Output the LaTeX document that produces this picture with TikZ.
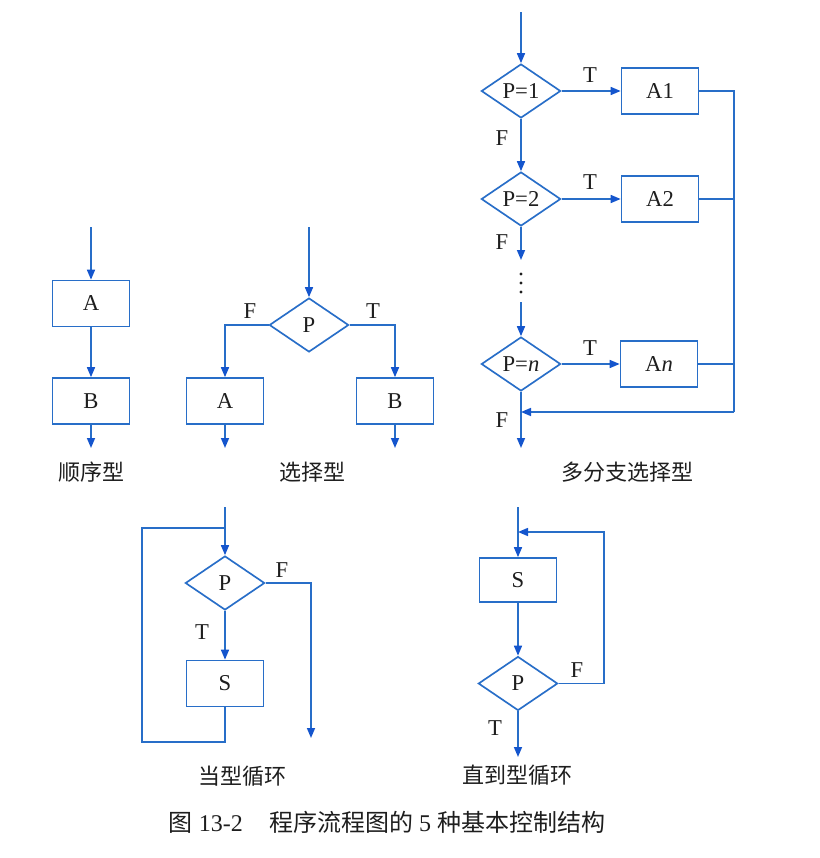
\documentclass[tikz,border=0pt]{standalone}
\usepackage{fontspec}
\setmainfont{Liberation Serif}
\newfontfamily\cjk{Noto Sans CJK SC}
\usetikzlibrary{shapes.geometric,arrows.meta}
\definecolor{flowblue}{RGB}{40,110,200}
\definecolor{tipblue}{RGB}{20,85,205}
\definecolor{inkgray}{RGB}{30,30,30}
\begin{document}
\begin{tikzpicture}[x=0.75pt,y=-0.75pt,
  latin/.style={font=\fontsize{17}{19}\selectfont, text=inkgray},
  box/.style={rectangle, draw=flowblue, line width=1.25pt, minimum width=57.75pt,
    minimum height=34.5pt, inner sep=0pt, latin},
  cond/.style={diamond, draw=flowblue, line width=1.25pt, minimum width=59.5pt,
    minimum height=40.5pt, aspect=1.46, inner sep=0pt, latin},
  wire/.style={draw=flowblue, line width=1.15pt},
  flow/.style={wire, -{Triangle[length=7.5pt,width=6pt,color=tipblue]}},
  tf/.style={latin, inner sep=0pt},
  title/.style={font=\cjk\fontsize{16.5}{19}\selectfont, text=inkgray, inner sep=0pt}
]
\useasboundingbox (0,0) rectangle (820,858);
\fill[white] (0,0) rectangle (820,858);

% ---- sequence ----
\coordinate (s1) at (91,227);
\node[box] (seqA) at (91,303.5) {A};
\node[box] (seqB) at (91,401) {B};
\coordinate (e1) at (91,448);
\draw[flow] (s1) -- (seqA);
\draw[flow] (seqA) -- (seqB);
\draw[flow] (seqB) -- (e1);
\node[title] (t1) at (91,472) {顺序型};

% ---- selection ----
\coordinate (s2) at (309,227);
\node[cond] (selP) at (309,325) {P};
\node[box] (selA) at (225,401) {A};
\node[box] (selB) at (395,401) {B};
\coordinate (e2a) at (225,448);
\coordinate (e2b) at (395,448);
\draw[flow] (s2) -- (selP);
\draw[flow] (selP.west) -| (selA.north);
\draw[flow] (selP.east) -| (selB.north);
\draw[flow] (selA) -- (e2a);
\draw[flow] (selB) -- (e2b);
\node[tf] (selF) at (250,311) {F};
\node[tf] (selT) at (373,311) {T};
\node[title] (t2) at (312,472) {选择型};

% ---- multiple branches ----
\coordinate (s3) at (521,12);
\node[cond] (m1) at (521,91) {P=1};
\node[box] (mA1) at (660,91) {A1};
\node[cond] (m2) at (521,199) {P=2};
\node[box] (mA2) at (660,199) {A2};
\coordinate (m2out) at (521,260);
\coordinate (m3in) at (521,302);
\node[cond] (mn) at (521,364) {P=\textit{n}};
\node[box] (mAn) at (659,364) {A\textit{n}};
\coordinate (bus1) at (734,91);
\coordinate (bus2) at (734,199);
\coordinate (busn) at (734,364);
\coordinate (busb) at (734,412);
\coordinate (merge) at (521,412);
\coordinate (e3) at (521,448);
\draw[flow] (s3) -- (m1);
\draw[flow] (m1) -- (m2);
\draw[flow] (m2) -- (m2out);
\draw[flow] (m3in) -- (mn);
\draw[flow] (mn) -- (e3);
\draw[flow] (m1) -- (mA1);
\draw[flow] (m2) -- (mA2);
\draw[flow] (mn) -- (mAn);
\draw[wire] (mA1.east) -- (bus1) -- (busb);
\draw[wire] (mA2.east) -- (bus2);
\draw[wire] (mAn.east) -- (busn);
\draw[flow] (busb) -- (merge);
\foreach \yy in {274,283,292} \fill[inkgray] (521,\yy) circle (1.6);
\node[tf] (mT1) at (590,75) {T};
\node[tf] (mT2) at (590,182) {T};
\node[tf] (mTn) at (590,348) {T};
\node[tf] (mF1) at (502,138) {F};
\node[tf] (mF2) at (502,242) {F};
\node[tf] (mFn) at (502,420) {F};
\node[title] (t3) at (627,472) {多分支选择型};

% ---- while loop ----
\coordinate (s4) at (225,507);
\coordinate (j4) at (225,528);
\node[cond] (wP) at (225,583) {P};
\node[box] (wS) at (225,683.5) {S};
\coordinate (w1) at (225,742);
\coordinate (w2) at (142,742);
\coordinate (w3) at (142,528);
\coordinate (wF1) at (311,583);
\coordinate (wF2) at (311,738);
\draw[flow] (s4) -- (wP);
\draw[flow] (wP) -- (wS);
\draw[wire] (wS.south) -- (w1) -- (w2) -- (w3) -- (j4);
\draw[flow] (wP.east) -- (wF1) -- (wF2);
\node[tf] (wFl) at (282,570) {F};
\node[tf] (wTl) at (202,632) {T};
\node[title] (t4) at (242,776) {当型循环};

% ---- do-until loop ----
\coordinate (s5) at (518,507);
\node[box, minimum height=33pt] (uS) at (518,580) {S};
\node[cond] (uP) at (518,683.5) {P};
\coordinate (uT) at (518,757);
\coordinate (u1) at (604,683.5);
\coordinate (u2) at (604,532);
\coordinate (uj) at (518,532);
\draw[flow] (s5) -- (uS);
\draw[flow] (uS) -- (uP);
\draw[flow] (uP) -- (uT);
\draw[flow] (uP.east) -- (u1) -- (u2) -- (uj);
\node[tf] (uFl) at (577,670) {F};
\node[tf] (uTl) at (495,728) {T};
\node[title] (t5) at (517,775) {直到型循环};

% ---- caption ----
\node[inner sep=0pt, text=inkgray, font=\fontsize{18}{20}\selectfont] (cap) at (387,822)
  {{\cjk 图}~13-2\hspace{1.1em}{\cjk 程序流程图的}~5~{\cjk 种基本控制结构}};
\end{tikzpicture}
\end{document}
